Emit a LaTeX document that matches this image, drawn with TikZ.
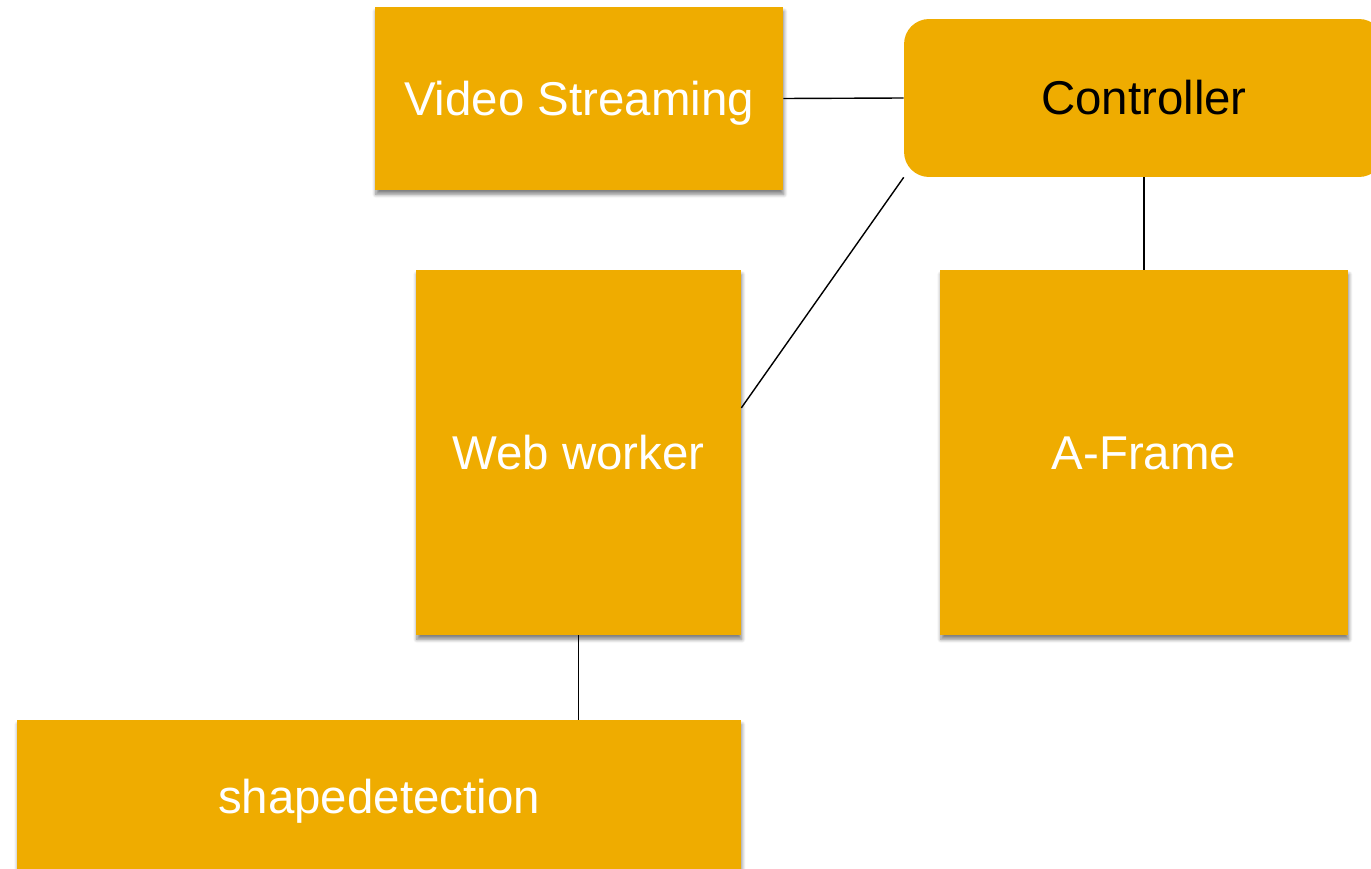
\documentclass[tikz,border=0pt]{standalone}
\usepackage{fontspec}
\setmainfont{Liberation Sans}
\usetikzlibrary{positioning,calc,shadows.blur}

\definecolor{boxorange}{RGB}{239,172,0}

\begin{document}
\begin{tikzpicture}
	% Styles
	[
	x=0.02cm,y=-0.02cm,
	block/.style={rectangle,fill=boxorange,text=white,inner sep=0pt,
		font=\fontsize{27}{32}\selectfont,text height=19.3pt,text depth=0pt,
		blur shadow={shadow xshift=0.5pt,shadow yshift=-2.5pt,shadow blur steps=6,shadow opacity=50}},
	ctrlblock/.style={rectangle,rounded corners=0.5cm,fill=boxorange,text=black,inner sep=0pt,
		font=\fontsize{27}{32}\selectfont,text height=19.3pt,text depth=0pt},
	link/.style={line width=0.8pt,black},
	]

	\useasboundingbox (0,0) rectangle (1371,868);

	% Nodes
	\node at (579,98.5)	(vs)	[block,minimum width=8.16cm,minimum height=3.66cm]	{Video Streaming};
	\node at (1144,98)	(ctrl)	[ctrlblock,minimum width=9.6cm,minimum height=3.16cm]	{Controller};
	\node at (578.5,452.5)	(ww)	[block,minimum width=6.5cm,minimum height=7.3cm]	{Web worker};
	\node at (1144,452.5)	(af)	[block,minimum width=8.16cm,minimum height=7.3cm]	{A-Frame};
	\node at (379,797)	(sd)	[block,minimum width=14.48cm,minimum height=3.08cm]	{shapedetection};

	% Lines
	\draw[link] (vs.east) -- (ctrl.west);
	\draw[link] (ctrl.south west) -- ($(ww.north east)!0.378!(ww.south east)$);
	\draw[link] (ctrl.south) -- (af.north);
	\draw[link] (ww.south) -- (ww.south |- sd.north);
\end{tikzpicture}
\end{document}
